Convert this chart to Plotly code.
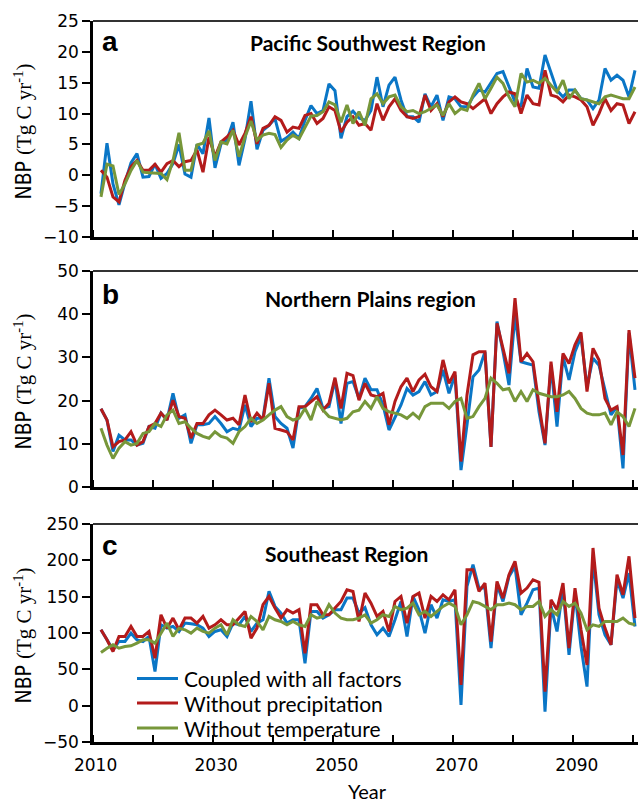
import plotly.graph_objects as go

years = list(range(2011, 2101))

# Panel a: Pacific Southwest Region
blue_a = [-3.0, 5.2, -1.4, -4.8, -1.2, 2.0, 3.5, -0.3, -0.2, 1.8,
          -0.5, 0.3, 1.9, 5.0, 0.2, -0.3, 5.0, 3.5, 9.3, 1.2,
          5.1, 5.7, 8.6, 1.6, 5.9, 12.0, 4.2, 7.3, 8.1, 9.2,
          5.5, 6.1, 7.0, 6.0, 8.9, 11.3, 10.0, 10.5, 14.8, 13.7,
          6.0, 9.5, 10.4, 9.3, 8.9, 10.5, 15.9, 11.1, 14.6, 15.9,
          12.2, 9.5, 9.5, 8.6, 13.2, 11.1, 13.0, 8.9, 12.7, 12.4,
          11.1, 11.1, 12.7, 13.8, 13.5, 15.0, 16.5, 16.8, 14.3, 11.9,
          11.1, 17.3, 14.3, 14.1, 19.5, 16.5, 13.8, 12.7, 13.8, 13.8,
          12.4, 12.2, 10.8, 12.2, 17.3, 15.4, 16.2, 15.4, 12.7, 17.0]
red_a = [0.8, -0.3, -3.5, -4.3, -0.8, 1.4, 2.4, 0.8, 0.8, 1.8,
         0.5, 1.9, 2.4, 1.4, 2.2, 2.4, 4.1, 0.5, 6.2, 3.0,
         5.4, 6.2, 7.3, 4.9, 6.8, 9.5, 5.1, 7.6, 8.1, 9.5,
         8.9, 7.0, 7.8, 7.6, 9.7, 10.0, 8.4, 9.2, 11.1, 10.5,
         7.0, 8.6, 9.5, 8.1, 8.4, 7.3, 11.6, 8.9, 11.1, 12.4,
         10.5, 9.5, 9.2, 9.5, 13.0, 10.5, 11.6, 9.5, 11.9, 12.7,
         11.9, 11.6, 10.8, 11.6, 12.4, 10.0, 11.6, 12.7, 13.5, 13.2,
         10.0, 13.0, 11.6, 11.4, 17.0, 13.0, 12.7, 11.9, 13.0, 12.7,
         12.2, 11.1, 8.1, 10.0, 12.4, 10.5, 11.6, 11.4, 8.4, 10.3]
green_a = [-3.5, 1.8, 1.5, -3.1, -1.4, 0.8, 2.4, 0.5, 0.4, 0.3,
           0.3, -0.7, 2.4, 6.9, 0.8, 0.8, 4.9, 5.2, 7.2, 2.4,
           5.4, 5.1, 7.3, 3.0, 6.2, 8.8, 5.7, 6.5, 6.8, 6.6,
           4.5, 5.7, 6.5, 5.9, 7.8, 9.6, 9.7, 10.3, 11.9, 11.4,
           8.6, 11.4, 8.4, 10.3, 8.1, 12.4, 13.2, 11.6, 12.7, 13.0,
           11.1, 10.3, 10.5, 10.0, 10.3, 10.8, 11.4, 9.7, 11.6, 10.0,
           10.8, 10.5, 13.0, 14.9, 12.4, 14.1, 15.9, 14.9, 12.7, 11.1,
           16.5, 15.1, 15.4, 14.9, 15.7, 14.6, 13.5, 15.4, 12.4, 13.8,
           12.4, 12.2, 11.9, 11.6, 12.7, 13.0, 12.7, 12.4, 12.4, 14.3]

# Panel b: Northern Plains region
blue_b = [18.1, 15.5, 8.2, 12.0, 10.9, 10.9, 9.7, 10.1, 14.0, 13.6,
          17.1, 15.5, 21.7, 15.9, 16.7, 10.1, 14.4, 14.4, 14.7, 16.3,
          14.7, 12.8, 13.6, 13.2, 19.0, 14.0, 15.9, 15.9, 25.2, 16.3,
          14.7, 13.6, 9.0, 18.2, 18.6, 20.5, 22.8, 18.2, 18.6, 24.8,
          14.7, 24.0, 24.4, 20.5, 25.2, 22.5, 22.5, 19.0, 13.2, 16.3,
          19.0, 22.8, 21.3, 22.1, 24.4, 21.3, 22.1, 27.1, 21.7, 25.9,
          3.9, 14.4, 25.5, 27.1, 31.3, 9.3, 38.3, 31.3, 23.6, 39.8,
          29.0, 28.6, 28.2, 17.4, 9.7, 28.2, 14.0, 30.2, 24.8, 31.3,
          34.8, 23.2, 29.8, 28.2, 22.1, 16.7, 18.6, 4.3, 35.6, 22.5]
red_b = [18.1, 15.5, 9.3, 10.5, 10.9, 12.8, 9.7, 10.5, 14.0, 14.7,
         17.1, 15.5, 20.1, 16.3, 15.9, 11.3, 14.7, 14.7, 16.7, 17.8,
         16.7, 15.5, 15.9, 14.4, 21.3, 15.1, 17.1, 15.5, 24.0, 13.6,
         13.2, 12.8, 10.9, 18.6, 18.6, 19.8, 20.9, 17.8, 19.4, 25.3,
         18.2, 26.3, 25.8, 20.1, 24.0, 21.3, 20.9, 21.7, 14.4, 19.8,
         23.2, 25.2, 22.1, 24.8, 26.1, 23.2, 22.1, 29.4, 24.0, 26.7,
         5.9, 21.3, 30.6, 31.3, 31.3, 9.3, 37.9, 32.1, 26.3, 43.7,
         29.0, 30.9, 29.0, 19.0, 10.1, 29.0, 17.4, 30.9, 28.6, 32.9,
         35.8, 22.1, 32.1, 29.4, 20.5, 17.8, 18.6, 7.4, 36.3, 25.2]
green_b = [13.6, 9.7, 6.6, 9.0, 10.5, 9.7, 10.1, 12.4, 12.8, 14.7,
           14.0, 16.7, 17.8, 14.7, 15.1, 13.6, 12.4, 11.7, 11.3, 12.8,
           11.7, 11.3, 10.1, 12.8, 14.0, 15.9, 14.7, 15.5, 16.7, 17.8,
           18.6, 16.3, 15.5, 15.9, 18.2, 15.5, 19.8, 17.8, 16.3, 15.9,
           15.5, 15.9, 17.4, 17.8, 19.8, 18.2, 20.9, 18.2, 17.4, 17.1,
           16.7, 15.9, 17.1, 15.9, 18.6, 19.4, 19.4, 19.4, 18.2, 19.8,
           20.5, 15.9, 16.3, 18.6, 20.5, 25.2, 24.0, 22.5, 22.8, 19.8,
           22.1, 19.8, 22.5, 21.7, 21.3, 20.9, 20.9, 21.3, 22.1, 20.5,
           18.2, 17.1, 16.7, 16.7, 17.1, 14.4, 17.4, 16.3, 14.0, 18.2]

# Panel c: Southeast Region
blue_c = [104.4, 90.6, 76.8, 88.3, 88.3, 99.8, 90.6, 88.3, 95.2, 46.9,
          111.3, 106.7, 109.0, 102.1, 113.6, 112.6, 111.3, 106.7, 95.2, 102.1,
          104.4, 95.2, 113.6, 111.3, 122.8, 102.1, 113.6, 118.2, 157.2, 136.6,
          127.4, 113.6, 118.2, 118.2, 58.4, 129.7, 129.7, 120.5, 125.1, 132.0,
          132.0, 148.0, 148.0, 127.4, 135.0, 111.3, 97.5, 106.7, 95.2, 118.2,
          143.4, 95.2, 150.3, 132.0, 99.8, 138.9, 120.5, 145.7, 143.4, 145.7,
          0.9, 164.1, 194.0, 161.8, 161.8, 79.1, 166.4, 143.4, 177.9, 191.7,
          125.1, 141.1, 159.5, 161.8, -8.3, 136.6, 102.1, 161.8, 69.9, 154.9,
          81.4, 26.2, 203.2, 125.1, 97.5, 83.7, 173.3, 148.0, 182.5, 109.0]
red_c = [104.4, 90.6, 74.5, 95.2, 95.2, 109.0, 95.2, 95.2, 102.1, 65.3,
         125.1, 106.7, 120.5, 104.4, 120.5, 120.5, 113.6, 122.8, 106.7, 111.3,
         118.2, 111.3, 111.3, 120.5, 129.7, 92.9, 106.7, 138.9, 150.3, 134.3,
         120.5, 132.0, 127.4, 132.0, 72.2, 138.9, 138.9, 125.1, 125.1, 134.3,
         143.4, 159.5, 157.2, 115.9, 154.9, 141.1, 122.8, 129.7, 102.1, 143.4,
         150.3, 113.6, 150.3, 154.9, 120.5, 150.3, 143.4, 152.6, 145.7, 159.5,
         28.5, 187.1, 187.1, 157.2, 168.7, 88.3, 171.0, 148.0, 180.2, 198.6,
         154.9, 161.8, 173.3, 169.7, 19.3, 145.7, 132.0, 168.7, 79.1, 161.8,
         104.4, 56.1, 217.0, 134.3, 106.7, 83.7, 180.2, 152.6, 205.5, 120.5]
green_c = [73.1, 79.1, 83.7, 79.1, 81.4, 82.3, 86.0, 90.6, 90.6, 86.0,
           99.8, 113.6, 95.2, 106.7, 104.4, 99.8, 106.7, 102.1, 99.8, 106.7,
           111.3, 97.5, 118.2, 111.3, 109.0, 122.8, 115.9, 104.4, 122.8, 118.2,
           115.9, 111.3, 115.9, 111.3, 109.0, 125.1, 120.5, 122.8, 138.9, 127.4,
           120.5, 118.2, 118.2, 120.5, 125.0, 113.6, 118.2, 125.1, 122.8, 136.6,
           132.0, 134.3, 141.1, 125.1, 129.7, 122.8, 129.7, 136.6, 141.1, 136.6,
           111.3, 125.1, 143.4, 141.1, 136.6, 132.0, 138.9, 138.9, 141.1, 138.9,
           132.0, 136.6, 136.6, 143.4, 122.8, 132.0, 125.1, 143.4, 136.6, 141.1,
           127.4, 104.4, 111.3, 109.0, 115.9, 115.9, 115.9, 120.5, 113.6, 111.3]

series_names = ["Coupled with all factors", "Without precipitation", "Without temperature"]
panel_letters = ["a", "b", "c"]
panel_titles = ["Pacific Southwest Region", "Northern Plains region", "Southeast Region"]
y_ranges = [[-10, 25], [0, 50], [-50, 250]]
y_dticks = [5, 10, 50]
x_label_vals = [2010.1, 2030.2, 2050.3, 2070.3, 2090.3]
x_label_text = ["2010", "2030", "2050", "2070", "2090"]

colors = ["#0A76C6", "#B31B1B", "#77973A"]
panels = [(blue_a, red_a, green_a), (blue_b, red_b, green_b), (blue_c, red_c, green_c)]

W, H = 638, 804
L, R, T, B = 93, 0, 21, 62
PW, PH = W - L - R, H - T - B

def py(y):  # pixel y -> paper y
    return (H - B - y) / PH

def px(x):
    return (x - L) / PW

panel_px = [(21, 237), (271, 487), (524, 742)]

fig = go.Figure()
for i, ser in enumerate(panels):
    xa = "x" if i == 0 else f"x{i+1}"
    ya = "y" if i == 0 else f"y{i+1}"
    for j, vals in enumerate(ser):
        fig.add_trace(go.Scatter(
            x=years, y=vals, mode="lines", name=series_names[j],
            line=dict(color=colors[j], width=3),
            xaxis=xa, yaxis=ya, showlegend=False))

tickfont = dict(family="DejaVu Sans, Verdana, sans-serif", size=17, color="black")
xrange = [2009.67, 2100.5]
layout = dict(width=W, height=H, margin=dict(l=L, r=R, t=T, b=B),
              plot_bgcolor="white", paper_bgcolor="white", showlegend=False)
for i in range(3):
    top, bot = panel_px[i]
    dom = [py(bot), py(top)]
    suffix = "" if i == 0 else str(i + 1)
    layout["xaxis" + suffix] = dict(
        domain=[0, 1], range=xrange, anchor="y" + suffix,
        showline=True, linecolor="black", linewidth=2.5,
        showgrid=False, zeroline=False,
        tickmode="array", tickvals=x_label_vals, ticktext=x_label_text,
        ticks="", showticklabels=(i == 2), tickfont=tickfont,
        ticklabelstandoff=6,
        minor=dict(tickmode="linear", tick0=2019.7, dtick=10, ticks="inside",
                   ticklen=7, tickwidth=1.5, tickcolor="black", showgrid=False))
    layout["yaxis" + suffix] = dict(
        domain=dom, range=y_ranges[i], anchor="x" + suffix,
        dtick=y_dticks[i], tick0=y_ranges[i][0],
        showline=True, linecolor="black", linewidth=2.5,
        showgrid=False, zeroline=False,
        ticks="outside", ticklen=8, tickwidth=1.5, tickcolor="black",
        tickfont=tickfont)
fig.update_layout(**layout)

ann = []
shapes = []
title_font = dict(family="Lato, Open Sans, sans-serif", size=21, color="black")
ytitle = ('<span style="font-family:Liberation Sans Narrow, DejaVu Sans Condensed, sans-serif">NBP</span> '
          '<span style="font-family:Liberation Serif, serif">(Tg C yr<sup>-1</sup>)</span>')
title_x = [367.5, 370, 346]
title_y = [43, 298, 553]
letter_y = [42, 294, 545]
ytitle_y = [132, 382, 636]
for i in range(3):
    top, bot = panel_px[i]
    suffix = "" if i == 0 else str(i + 1)
    ann.append(dict(text=f"<b>{panel_letters[i]}</b>", x=px(110), y=py(letter_y[i]),
                    xref="paper", yref="paper", showarrow=False,
                    xanchor="center", yanchor="middle",
                    font=dict(family="Liberation Sans, Arial, sans-serif", size=28, color="black")))
    ann.append(dict(text=f"<b>{panel_titles[i]}</b>", x=px(title_x[i]), y=py(title_y[i]),
                    xref="paper", yref="paper", showarrow=False,
                    xanchor="center", yanchor="middle", font=title_font))
    ann.append(dict(text=ytitle, x=px(22.5), y=py(ytitle_y[i]), textangle=-90,
                    xref="paper", yref="paper", showarrow=False,
                    xanchor="center", yanchor="middle",
                    font=dict(family="Liberation Sans Narrow, DejaVu Sans Condensed, sans-serif",
                              size=21, color="black")))
    shapes.append(dict(type="line", xref="x" + suffix + " domain", yref="y" + suffix + " domain",
                       x0=0, x1=1, y0=1, y1=1, line=dict(color="#333333", width=2)))
ann.append(dict(text="Year", x=px(367), y=py(791), xref="paper", yref="paper",
                xanchor="center", yanchor="middle",
                showarrow=False, font=dict(family="Lato, Open Sans, sans-serif", size=20, color="black")))

# legend (drawn as key lines + labels)
legend_rows = [678.5, 703, 728]
for j, name in enumerate(series_names):
    shapes.append(dict(type="line", xref="paper", yref="paper",
                       x0=px(137), x1=px(178), y0=py(legend_rows[j]), y1=py(legend_rows[j]),
                       line=dict(color=colors[j], width=3)))
    ann.append(dict(text=name, x=px(182), y=py(legend_rows[j]), xref="paper", yref="paper",
                    xanchor="left", yanchor="middle", showarrow=False,
                    font=dict(family="Lato, Open Sans, sans-serif", size=21, color="black")))

fig.update_layout(annotations=ann, shapes=shapes)

fig.write_html("out.html", config={"displayModeBar": False},
               post_script="document.body.style.margin='0';")
